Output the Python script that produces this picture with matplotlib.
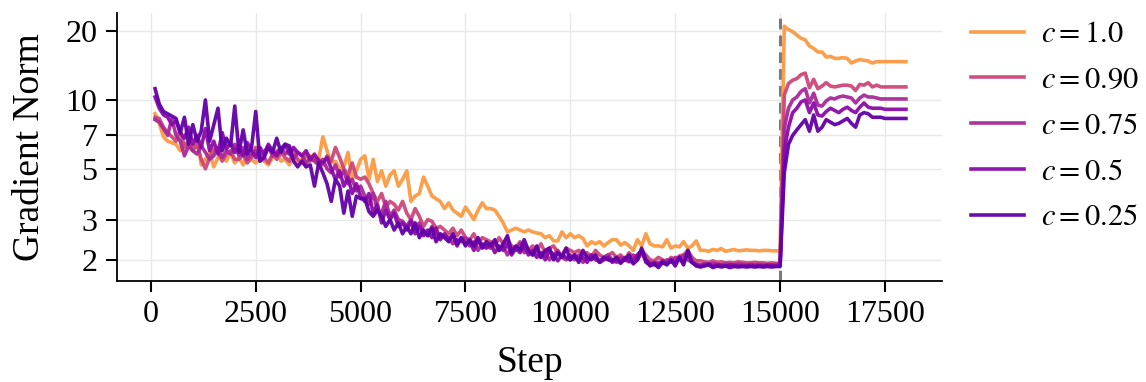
import matplotlib
matplotlib.use("Agg")
import matplotlib.pyplot as plt
from matplotlib.ticker import FixedLocator, NullLocator, FixedFormatter

plt.rcParams['font.family'] = 'serif'
plt.rcParams['font.serif'] = ['Liberation Serif', 'DejaVu Serif']
plt.rcParams['mathtext.fontset'] = 'stix'

steps = list(range(100, 18001, 100))

labels = ["$c = 1.0$", "$c = 0.90$", "$c = 0.75$", "$c = 0.5$", "$c = 0.25$"]
colors = ["#fb9a42", "#cc4778", "#a8299a", "#8a0ba6", "#6200a8"]

c100_pre = [
    8.7, 7.9, 6.9, 6.6, 6.5, 6.4, 6.0, 6.5, 6.3, 6.0,
    6.9, 5.2, 5.5, 5.9, 5.1, 5.6, 5.7, 5.4, 5.9, 5.3,
    5.6, 5.2, 5.8, 5.5, 5.3, 5.7, 5.4, 5.2, 5.6, 6.0,
    5.4, 5.5, 5.2, 5.6, 5.3, 5.5, 5.1, 5.7, 5.4, 5.5,
    6.9, 6.0, 5.3, 5.4, 5.0, 5.1, 5.9, 4.5, 4.9, 5.5,
    5.7, 4.5, 5.5, 4.4, 4.9, 4.2, 4.7, 4.9, 4.2, 4.5,
    4.9, 3.6, 3.8, 3.9, 4.6, 4.2, 3.8, 3.7, 3.6, 3.35,
    3.55, 3.3, 3.2, 3.1, 3.4, 3.2, 3.0, 3.3, 3.55, 3.35,
    3.35, 3.3, 3.1, 2.9, 2.65, 2.7, 2.75, 2.7, 2.65, 2.7,
    2.65, 2.62, 2.6, 2.5, 2.55, 2.42, 2.42, 2.65, 2.5, 2.6,
    2.5, 2.55, 2.48, 2.3, 2.4, 2.35, 2.4, 2.3, 2.38, 2.45,
    2.45, 2.32, 2.38, 2.3, 2.2, 2.45, 2.3, 2.6, 2.35, 2.3,
    2.3, 2.28, 2.45, 2.25, 2.3, 2.28, 2.4, 2.25, 2.3, 2.42,
    2.2, 2.2, 2.18, 2.22, 2.2, 2.24, 2.18, 2.2, 2.22, 2.19,
    2.2, 2.21, 2.2, 2.2, 2.19, 2.2, 2.2, 2.19, 2.19, 2.19,
]
c100_post = [
    21.0, 20.3, 19.9, 19.2, 18.6, 18.3, 17.2, 16.8, 16.2, 16.2,
    15.4, 15.5, 15.2, 15.2, 15.3, 15.2, 14.5, 14.8, 15.0, 14.9,
    14.8, 14.5, 14.7, 14.7, 14.7, 14.7, 14.7, 14.7, 14.7, 14.7,
]

c090_pre = [
    8.4, 8.3, 7.6, 7.2, 6.9, 6.6, 7.4, 6.2, 6.6, 6.0,
    6.4, 5.5, 5.0, 5.6, 6.1, 5.9, 5.4, 5.8, 6.0, 5.5,
    5.5, 5.8, 5.3, 5.6, 6.2, 5.4, 5.6, 5.3, 5.8, 5.5,
    5.9, 5.6, 5.4, 6.0, 5.5, 5.3, 5.8, 5.4, 5.6, 5.5,
    5.2, 5.7, 5.4, 6.2, 5.6, 5.0, 4.7, 5.3, 4.6, 4.5,
    4.6, 4.3, 3.9, 3.6, 3.9, 3.4, 3.6, 3.5, 3.3, 3.6,
    3.2, 3.0, 3.35, 3.1, 2.8, 3.0, 2.95, 2.75, 2.8, 2.7,
    2.6, 2.75, 2.55, 2.7, 2.5, 2.45, 2.6, 2.35, 2.5, 2.45,
    2.4, 2.3, 2.5, 2.35, 2.45, 2.3, 2.25, 2.4, 2.3, 2.2,
    2.3, 2.2, 2.35, 2.15, 2.25, 2.3, 2.15, 2.1, 2.25, 2.2,
    2.15, 2.2, 2.1, 2.15, 2.05, 2.2, 2.1, 2.05, 2.1, 2.15,
    2.05, 2.1, 2.0, 2.15, 2.05, 2.1, 2.2, 2.1, 2.0, 1.98,
    2.05, 2.0, 1.95, 2.05, 2.0, 2.08, 2.1, 2.2, 2.05, 1.98,
    1.98, 1.96, 1.95, 1.98, 1.95, 1.96, 1.94, 1.95, 1.94, 1.96,
    1.95, 1.94, 1.94, 1.95, 1.94, 1.94, 1.93, 1.94, 1.93, 1.93,
]
c090_post = [
    10.5, 11.8, 12.2, 12.4, 12.9, 13.1, 11.3, 12.3, 11.2, 11.5,
    11.9, 11.5, 11.4, 11.5, 11.6, 11.6, 11.5, 11.0, 11.7, 11.6,
    11.9, 11.4, 11.6, 11.4, 11.4, 11.4, 11.4, 11.4, 11.4, 11.4,
]

c075_pre = [
    8.2, 8.0, 7.5, 7.0, 8.3, 7.0, 6.6, 5.7, 6.3, 6.0,
    5.8, 6.3, 5.9, 5.5, 5.7, 6.2, 5.6, 6.0, 5.8, 6.4,
    5.7, 6.2, 5.5, 5.8, 6.0, 5.6, 5.9, 6.3, 5.7, 5.9,
    6.2, 5.8, 6.0, 5.5, 5.9, 5.7, 5.3, 5.6, 5.4, 5.2,
    5.5, 5.0, 4.8, 5.2, 4.6, 4.9, 4.3, 4.5, 4.0, 4.2,
    3.8, 3.5, 3.9, 3.3, 3.2, 3.6, 3.1, 3.3, 3.0, 2.95,
    2.8, 3.0, 2.75, 2.9, 2.65, 2.55, 2.8, 2.6, 2.5, 2.55,
    2.5, 2.35, 2.45, 2.4, 2.5, 2.3, 2.4, 2.2, 2.35, 2.3,
    2.25, 2.4, 2.2, 2.3, 2.1, 2.25, 2.2, 2.35, 2.15, 2.2,
    2.1, 2.2, 2.05, 2.15, 2.0, 2.1, 2.2, 2.05, 2.0, 2.1,
    2.0, 2.1, 1.95, 2.05, 2.1, 2.0, 1.98, 2.05, 2.1, 2.0,
    1.95, 2.05, 2.0, 1.96, 2.1, 2.0, 2.15, 2.0, 1.95, 1.9,
    1.95, 1.93, 2.0, 1.95, 2.05, 2.0, 2.1, 2.0, 1.95, 1.92,
    1.9, 1.92, 1.9, 1.93, 1.91, 1.9, 1.92, 1.91, 1.9, 1.92,
    1.91, 1.9, 1.91, 1.9, 1.91, 1.9, 1.91, 1.9, 1.91, 1.91,
]
c075_post = [
    7.5, 9.2, 10.0, 10.3, 10.9, 11.2, 9.7, 10.7, 9.5, 9.4,
    9.9, 10.2, 10.1, 10.3, 10.4, 10.3, 10.2, 9.7, 10.2, 10.5,
    10.3, 10.3, 10.2, 10.1, 10.1, 10.1, 10.1, 10.1, 10.1, 10.1,
]

c050_pre = [
    10.3, 9.2, 8.6, 8.4, 7.8, 8.1, 7.2, 6.8, 7.6, 6.4,
    7.0, 6.2, 7.5, 6.0, 6.6, 5.8, 7.2, 6.1, 6.5, 5.9,
    6.3, 5.7, 6.5, 6.0, 5.6, 6.2, 5.8, 6.4, 6.0, 5.7,
    6.1, 6.4, 5.8, 6.2, 5.9, 5.7, 6.0, 5.5, 5.8, 5.4,
    5.3, 5.6, 5.0, 4.5, 4.9, 4.2, 4.6, 3.9, 4.3, 3.8,
    3.6, 3.9, 3.2, 3.5, 2.9, 3.3, 3.0, 3.2, 2.8, 2.9,
    2.7, 2.95, 2.6, 2.8, 2.55, 2.7, 2.5, 2.75, 2.45, 2.6,
    2.45, 2.55, 2.3, 2.5, 2.35, 2.4, 2.2, 2.45, 2.3, 2.25,
    2.35, 2.15, 2.3, 2.2, 2.35, 2.1, 2.25, 2.15, 2.3, 2.1,
    2.2, 2.05, 2.15, 2.0, 2.2, 2.1, 1.98, 2.1, 2.05, 2.0,
    2.1, 2.0, 2.05, 1.95, 2.1, 2.02, 1.95, 2.0, 2.05, 1.95,
    2.0, 1.93, 2.05, 1.98, 1.95, 2.1, 2.2, 1.95, 1.9, 1.95,
    1.9, 1.98, 1.92, 2.0, 1.95, 2.05, 1.95, 2.15, 1.95, 1.9,
    1.88, 1.9, 1.92, 1.88, 1.9, 1.89, 1.88, 1.9, 1.89, 1.88,
    1.89, 1.88, 1.89, 1.88, 1.89, 1.88, 1.89, 1.89, 1.88, 1.89,
]
c050_post = [
    6.0, 7.6, 8.8, 9.2, 9.8, 10.0, 8.8, 9.7, 8.6, 8.5,
    8.9, 9.2, 9.0, 8.8, 9.1, 9.3, 9.0, 8.8, 9.3, 9.7,
    9.3, 9.2, 9.2, 9.2, 9.1, 9.1, 9.1, 9.1, 9.1, 9.1,
]

c025_pre = [
    11.2, 9.6, 8.9, 8.7, 8.5, 8.3, 7.2, 8.4, 6.4, 7.8,
    6.6, 7.3, 10.0, 6.6, 7.8, 9.2, 6.0, 6.8, 6.3, 9.4,
    5.9, 7.4, 5.8, 6.2, 8.9, 5.4, 5.6, 6.2, 5.9, 6.8,
    5.9, 6.4, 6.3, 5.4, 5.1, 5.4, 5.1, 5.2, 4.2, 5.3,
    4.8, 4.3, 3.6, 4.5, 4.2, 3.2, 4.0, 3.1, 3.8, 3.7,
    3.7, 3.25, 3.1, 3.3, 3.1, 2.8, 3.0, 2.7, 2.9, 2.6,
    2.8, 2.6, 2.9, 2.5, 2.7, 2.55, 2.75, 2.4, 2.6, 2.5,
    2.4, 2.6, 2.35, 2.5, 2.3, 2.45, 2.3, 2.5, 2.25, 2.4,
    2.3, 2.45, 2.2, 2.35, 2.55, 2.15, 2.3, 2.2, 2.45, 2.2,
    2.1, 2.3, 2.05, 2.2, 2.25, 2.0, 2.15, 2.05, 2.25, 2.0,
    2.1, 1.95, 2.2, 2.05, 2.0, 2.1, 1.95, 2.05, 2.0, 1.98,
    2.05, 1.95, 2.0, 2.1, 1.92, 2.0, 2.25, 2.0, 1.88, 1.92,
    1.85, 1.95, 1.9, 2.0, 1.88, 2.05, 1.9, 2.2, 1.95, 1.88,
    1.86, 1.88, 1.9, 1.85, 1.88, 1.86, 1.88, 1.85, 1.87, 1.86,
    1.87, 1.86, 1.87, 1.86, 1.87, 1.86, 1.87, 1.86, 1.87, 1.87,
]
c025_post = [
    4.8, 6.4, 7.0, 7.4, 7.8, 8.2, 7.3, 8.6, 7.3, 7.6,
    8.2, 8.0, 7.8, 7.9, 8.1, 8.3, 7.9, 7.6, 8.6, 8.8,
    8.7, 8.4, 8.4, 8.4, 8.3, 8.3, 8.3, 8.3, 8.3, 8.3,
]

series = [
    c100_pre + c100_post,
    c090_pre + c090_post,
    c075_pre + c075_post,
    c050_pre + c050_post,
    c025_pre + c025_post,
]

switch_step = 15000
yticks = [2, 3, 5, 7, 10, 20]
xticks = [0, 2500, 5000, 7500, 10000, 12500, 15000, 17500]

fig = plt.figure(figsize=(11.46, 3.82), dpi=100)
ax = fig.add_axes([0.102, 0.265, 0.72, 0.70])

for vals, lab, col in zip(series, labels, colors):
    ax.plot(steps, vals, color=col, lw=2.6, alpha=0.95, label=lab, zorder=2)

ax.axvline(switch_step, color="#7a7a7a", ls=(0, (3.5, 2)), lw=2.2, zorder=1.5)

ax.set_yscale("log")
ax.set_ylim(1.62, 23.9)
ax.set_xlim(-810, 18860)
ax.yaxis.set_major_locator(FixedLocator(yticks))
ax.yaxis.set_major_formatter(FixedFormatter([str(t) for t in yticks]))
ax.yaxis.set_minor_locator(NullLocator())
ax.set_xticks(xticks)
ax.set_xticklabels([str(t) for t in xticks])

ax.grid(True, color="#e8e8e8", lw=1.0)
ax.set_axisbelow(True)
for s in ["top", "right"]:
    ax.spines[s].set_visible(False)
for s in ["left", "bottom"]:
    ax.spines[s].set_linewidth(1.3)
ax.tick_params(axis="both", which="major", labelsize=23, length=8, width=1.5, pad=6)

ax.set_xlabel("Step", fontsize=27, labelpad=12)
ax.set_ylabel("Gradient Norm", fontsize=27, labelpad=13)

ax.legend(loc="upper left", bbox_to_anchor=(1.02, 1.02), frameon=False,
          fontsize=22, handlelength=1.75, handletextpad=0.55, labelspacing=0.55,
          borderaxespad=0.0)

fig.savefig("out.png", dpi=100)
